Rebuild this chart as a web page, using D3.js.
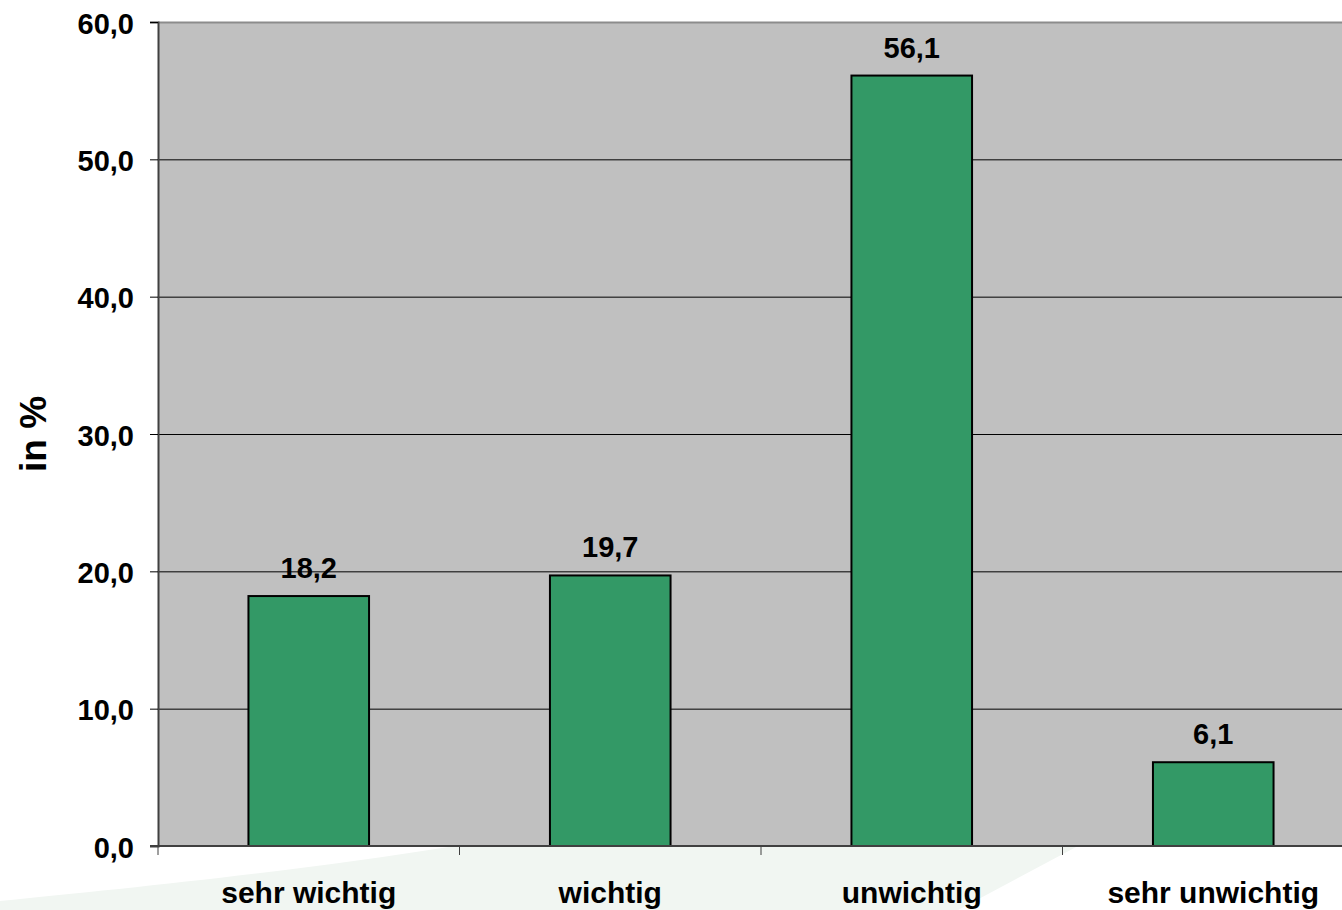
<!DOCTYPE html>
<html>
<head>
<meta charset="utf-8">
<script src="https://cdn.jsdelivr.net/npm/d3@7"></script>
<style>
  html, body { margin: 0; padding: 0; background: #ffffff; }
  svg { display: block; overflow: hidden; }
  text { font-family: "Liberation Sans", Arial, sans-serif; font-weight: bold; fill: #000; }
</style>
</head>
<body>
<svg id="chart" width="1342" height="910"></svg>
<script>
// Antworten und Anteile in Prozent
const categories = ["sehr wichtig", "wichtig", "unwichtig", "sehr unwichtig"];
const values = [18.2, 19.7, 56.1, 6.1];
const yTicks = [0, 10, 20, 30, 40, 50, 60];
const yTitle = "in %";

const svg = d3.select("#chart");
const plot = { left: 158, top: 22, right: 1364, bottom: 846 };

const fmt = v => v.toFixed(1).replace(".", ",");

const x = d3.scaleBand()
  .domain(categories)
  .range([plot.left, plot.right])
  .paddingInner(0.6)
  .paddingOuter(0.3);

const y = d3.scaleLinear()
  .domain([0, 60])
  .range([plot.bottom, plot.top]);

// hellgrüner Hintergrundschwung unten
svg.append("path")
  .attr("d", "M0,901 C120,889 300,871 455,846 L1078,846 L958,910 L0,910 Z")
  .attr("fill", "#f1f6f2");

// Plotfläche
svg.append("rect")
  .attr("x", plot.left).attr("y", plot.top)
  .attr("width", plot.right - plot.left)
  .attr("height", plot.bottom - plot.top)
  .attr("fill", "#c0c0c0");

// Gitterlinien
svg.append("g")
  .selectAll("line")
  .data(yTicks.filter(t => t > 0 && t < 60))
  .join("line")
  .attr("x1", plot.left).attr("x2", plot.right)
  .attr("y1", d => y(d) + 0.5).attr("y2", d => y(d) + 0.5)
  .attr("stroke", "#000").attr("stroke-width", 1);

// oberer Rand
svg.append("line")
  .attr("x1", plot.left).attr("x2", plot.right)
  .attr("y1", plot.top + 0.5).attr("y2", plot.top + 0.5)
  .attr("stroke", "#8c8c8c").attr("stroke-width", 2);

// Balken
svg.append("g")
  .selectAll("rect")
  .data(values)
  .join("rect")
  .attr("x", (d, i) => x(categories[i]))
  .attr("y", d => y(d))
  .attr("width", x.bandwidth())
  .attr("height", d => y(0) - y(d))
  .attr("fill", "#339966")
  .attr("stroke", "#000")
  .attr("stroke-width", 2);

// Wertbeschriftungen
svg.append("g")
  .selectAll("text")
  .data(values)
  .join("text")
  .attr("x", (d, i) => x(categories[i]) + x.bandwidth() / 2)
  .attr("y", d => y(d) - 18)
  .attr("text-anchor", "middle")
  .attr("font-size", 29)
  .text(d => fmt(d));

// y-Achse
const yAxis = d3.axisLeft(y)
  .tickValues(yTicks)
  .tickSize(8)
  .tickPadding(16)
  .tickFormat(fmt);

const gy = svg.append("g")
  .attr("transform", `translate(${plot.left},0)`)
  .call(yAxis);
gy.attr("font-size", null).attr("font-family", null);
gy.select(".domain").attr("stroke", "#404040").attr("stroke-width", 2);
gy.selectAll(".tick line").attr("stroke", "#000");
gy.selectAll(".tick text")
  .attr("dy", "0.38em")
  .style("font-size", "29px")
  .style("font-family", "'Liberation Sans', Arial, sans-serif")
  .style("font-weight", "bold")
  .attr("fill", "#000");

// x-Achse: Linie und Trennstriche zwischen Kategorien
svg.append("line")
  .attr("x1", plot.left - 8).attr("x2", plot.right)
  .attr("y1", plot.bottom).attr("y2", plot.bottom)
  .attr("stroke", "#404040").attr("stroke-width", 2);

const step = x.step();
svg.append("g")
  .selectAll("line")
  .data(categories)
  .join("line")
  .attr("x1", c => x(c) - (x.paddingInner() * step) / 2)
  .attr("x2", c => x(c) - (x.paddingInner() * step) / 2)
  .attr("y1", plot.bottom)
  .attr("y2", plot.bottom + 9)
  .attr("stroke", "#404040")
  .attr("stroke-width", 1);

// Kategorienbeschriftung
svg.append("g")
  .selectAll("text")
  .data(categories)
  .join("text")
  .attr("x", c => x(c) + x.bandwidth() / 2)
  .attr("y", 903)
  .attr("text-anchor", "middle")
  .attr("font-size", 30)
  .text(c => c);

// y-Achsentitel
svg.append("text")
  .attr("transform", `translate(46,${(plot.top + plot.bottom) / 2}) rotate(-90)`)
  .attr("text-anchor", "middle")
  .attr("font-size", 37)
  .text(yTitle);
</script>
</body>
</html>
